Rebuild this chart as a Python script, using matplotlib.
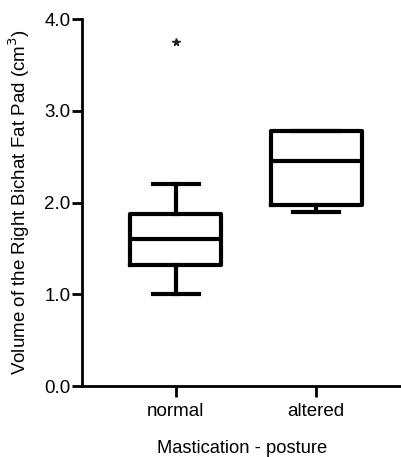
import matplotlib
matplotlib.use("Agg")
import matplotlib.pyplot as plt

categories = ["normal", "altered"]
whisker_low = [1.00, 1.90]
q1 = [1.32, 1.97]
median = [1.60, 2.45]
q3 = [1.88, 2.78]
whisker_high = [2.20, 2.78]
outliers = [[3.75], []]

plt.rcParams['font.family'] = ['Liberation Sans', 'DejaVu Sans']

fig = plt.figure(figsize=(4.02, 4.57), dpi=100)
ax = fig.add_axes([0.203, 0.155, 0.797, 0.803])

stats = []
for i, c in enumerate(categories):
    stats.append(dict(label=c, whislo=whisker_low[i], q1=q1[i], med=median[i],
                      q3=q3[i], whishi=whisker_high[i], fliers=outliers[i]))

lw = 3.0
ax.bxp(stats, positions=[1, 2], widths=0.65, showfliers=True,
       boxprops=dict(color='black', linewidth=lw),
       medianprops=dict(color='black', linewidth=lw),
       whiskerprops=dict(color='black', linewidth=lw),
       capprops=dict(color='black', linewidth=lw),
       capwidths=0.33,
       flierprops=dict(marker='*', markersize=5.5, markerfacecolor='#222222',
                       markeredgecolor='#222222'))

ax.set_ylim(0, 4.0)
ax.set_xlim(0.33, 2.61)
ax.set_yticks([0, 1, 2, 3, 4])
ax.set_yticklabels(["0.0", "1.0", "2.0", "3.0", "4.0"])
ax.set_xticks([1, 2])
ax.set_xticklabels(categories)

for s in ['top', 'right']:
    ax.spines[s].set_visible(False)
for s in ['left', 'bottom']:
    ax.spines[s].set_linewidth(2.0)

ax.tick_params(axis='y', labelsize=13.5, width=2.0, length=7, pad=1)
ax.tick_params(axis='x', labelsize=13.5, width=2.0, length=8, pad=4)

ax.set_ylabel("Volume of the Right Bichat Fat Pad (cm$^3$)", fontsize=13.5, labelpad=9)
ax.set_xlabel("Mastication - posture", fontsize=13.2, labelpad=14.5)

fig.savefig("out.png", dpi=100)
